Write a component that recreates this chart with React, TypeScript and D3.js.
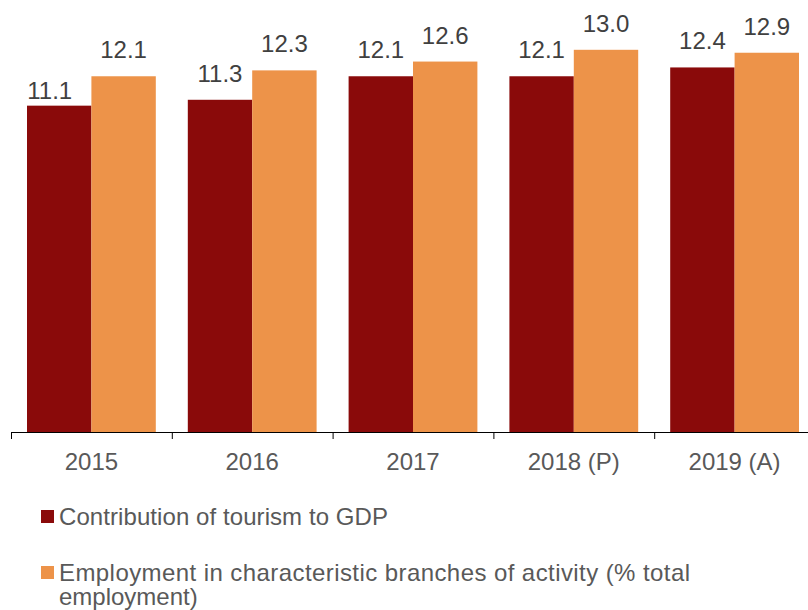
import React from "react";
import * as d3 from "d3";

const years = ["2015", "2016", "2017", "2018 (P)", "2019 (A)"];
const seriesNames = [
  "Contribution of tourism to GDP",
  "Employment in characteristic branches of activity (% total employment)",
];
const gdpShare = [11.1, 11.3, 12.1, 12.1, 12.4];
const employmentShare = [12.1, 12.3, 12.6, 13.0, 12.9];
const seriesValues = [gdpShare, employmentShare];
const colors = ["#8A0A0A", "#ED9349"];

const W = 808;
const H = 610;
const baseY = 432;
const x0 = 11;
const catW = 160.8;
const barPad = 16;
const labelGap = 18;
// manual nudges of single labels, as in the reference (series, category) -> [dx, dy]
const labelNudge: Record<string, [number, number]> = { "0-0": [-9.5, 11.4] };

export default function App() {
  const x = d3.scaleBand<string>().domain(years).range([x0, x0 + catW * years.length]).padding(0);
  const xs = d3
    .scaleBand<number>()
    .domain([0, 1])
    .range([barPad, x.bandwidth() - barPad])
    .padding(0);
  const y = d3.scaleLinear().domain([0, 14]).range([baseY, 20.4]);

  const legendLines = [
    [{ t: seriesNames[0], w: 329 }],
    [
      { t: "Employment in characteristic branches of activity (% total", w: 631 },
      { t: "employment)", w: 0 },
    ],
  ];

  return (
    <svg
      width={W}
      height={H}
      style={{ position: "absolute", left: 0, top: 0, fontFamily: "'Liberation Sans', Arial, sans-serif" }}
    >
      <rect x={0} y={0} width={W} height={H} fill="#fff" />
      {seriesValues.map((vals, si) =>
        vals.map((v, ci) => {
          const bx = (x(years[ci]) as number) + (xs(si) as number);
          return (
            <rect
              key={`b${si}-${ci}`}
              x={bx}
              y={y(v)}
              width={xs.bandwidth()}
              height={baseY - y(v)}
              fill={colors[si]}
            />
          );
        })
      )}
      {seriesValues.map((vals, si) =>
        vals.map((v, ci) => {
          const bx = (x(years[ci]) as number) + (xs(si) as number) + xs.bandwidth() / 2;
          const n = labelNudge[`${si}-${ci}`] || [0, 0];
          return (
            <text
              key={`l${si}-${ci}`}
              x={bx + n[0]}
              y={y(v) - labelGap + n[1]}
              textAnchor="middle"
              fontSize={24}
              fill="#404040"
            >
              {v.toFixed(1)}
            </text>
          );
        })
      )}
      <line x1={x0} x2={W} y1={baseY + 0.5} y2={baseY + 0.5} stroke="#000" strokeWidth={1.2} />
      {years.map((yr) => (
        <line
          key={`t${yr}`}
          x1={(x(yr) as number) + 0.5}
          x2={(x(yr) as number) + 0.5}
          y1={baseY}
          y2={baseY + 7}
          stroke="#000"
          strokeWidth={1}
        />
      ))}
      {years.map((yr) => (
        <text
          key={`x${yr}`}
          x={(x(yr) as number) + x.bandwidth() / 2}
          y={470}
          textAnchor="middle"
          fontSize={24}
          fill="#595959"
        >
          {yr}
        </text>
      ))}
      {legendLines.map((lines, i) => (
        <g key={`lg${i}`}>
          <rect x={41} y={510 + i * 56} width={13} height={13} fill={colors[i]} />
          {lines.map((ln, j) => (
            <text
              key={j}
              x={59}
              y={525 + i * 55.7 + j * 24}
              fontSize={24}
              fill="#595959"
              {...(ln.w ? { textLength: ln.w, lengthAdjust: "spacing" } : {})}
            >
              {ln.t}
            </text>
          ))}
        </g>
      ))}
    </svg>
  );
}
